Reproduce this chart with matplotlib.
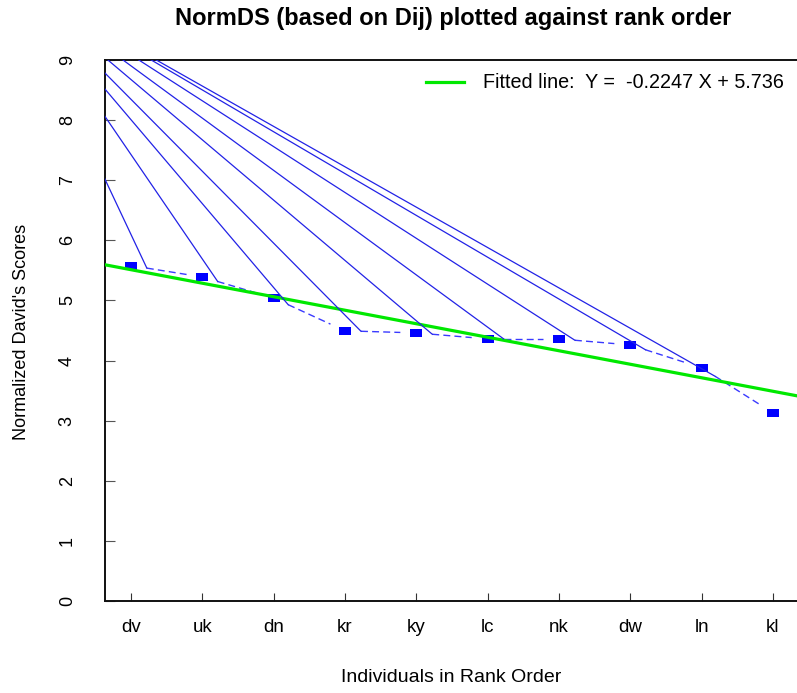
import numpy as np
import matplotlib
matplotlib.use("Agg")
import matplotlib.pyplot as plt
from matplotlib.path import Path
from matplotlib.lines import Line2D

plt.rcParams['font.family'] = ['Liberation Sans', 'DejaVu Sans']

# Individuals ordered by rank and their normalized David's scores
individuals = ["dv", "uk", "dn", "kr", "ky", "lc", "nk", "dw", "ln", "kl"]
norm_ds = [5.58, 5.39, 5.04, 4.495, 4.46, 4.36, 4.36, 4.26, 3.88, 3.13]

# Least-squares fit reported in the legend
fit_slope = -0.2247
fit_intercept = 5.736

# Point from which the connector rays are drawn
ray_origin = (-0.70, 10.38)

W, H, DPI = 797, 693, 100
fig = plt.figure(figsize=(W / DPI, H / DPI), dpi=DPI)
ax = fig.add_axes([105 / W, (H - 601) / H, (W - 105) / W, (601 - 60) / H])
ax.set_xlim(0.635, 10.337)
ax.set_ylim(0, 9)

x = np.arange(1, len(individuals) + 1, dtype=float)
y = np.array(norm_ds)

# Connecting segments with a gap around each point (overplotted style)
gap_px = 16.0
disp = ax.transData.transform(np.column_stack([x, y]))
inv = ax.transData.inverted()
seg_starts = []
for i in range(len(x) - 1):
    p0, p1 = disp[i], disp[i + 1]
    d = p1 - p0
    u = d / np.hypot(*d)
    a = inv.transform(p0 + u * gap_px)
    b = inv.transform(p1 - u * gap_px)
    seg_starts.append(a)
    ax.plot([a[0], b[0]], [a[1], b[1]], color="#3a3aff", lw=1.0,
            dashes=(5, 3), zorder=2)

# Points
rect = Path([(-1.3, -1), (1.3, -1), (1.3, 1), (-1.3, 1), (-1.3, -1)],
            [Path.MOVETO, Path.LINETO, Path.LINETO, Path.LINETO, Path.CLOSEPOLY])
ax.plot(x, y, linestyle="none", marker=rect, markersize=8.0,
        markerfacecolor="#0000ff", markeredgewidth=0, zorder=3)

# Fitted line
xf = np.array(ax.get_xlim())
ax.plot(xf, fit_slope * xf + fit_intercept, color="#00e800", lw=2.3, zorder=4)

# Rays to the start of every connecting segment
for s in seg_starts:
    ax.plot([ray_origin[0], s[0]], [ray_origin[1], s[1]], color="#2222e6",
            lw=0.9, zorder=5)

ax.set_xticks(x)
ax.set_xticklabels(individuals)
ax.set_yticks(range(0, 10))
ax.tick_params(axis="x", direction="in", length=6, width=0.8, pad=13,
               labelsize=13.5, color="#333333")
ax.tick_params(axis="y", direction="in", length=7, width=0.8, pad=21,
               labelsize=13, color="#555555", labelrotation=90)
for lab in ax.get_yticklabels():
    lab.set_verticalalignment("center")
ax.spines["right"].set_visible(False)
for s in ("left", "top", "bottom"):
    ax.spines[s].set_linewidth(1.4)
    ax.spines[s].set_color("#111111")

fig.text(453 / W, 1 - 19 / H, "NormDS (based on Dij) plotted against rank order",
         ha="center", va="center", fontsize=17, fontweight="bold")
fig.text(451 / W, 1 - 678 / H, "Individuals in Rank Order",
         ha="center", va="center", fontsize=14)
fig.text(22 / W, 1 - 332 / H, "Normalized David's Scores",
         ha="center", va="center", fontsize=13, rotation=90)

handle = Line2D([], [], color="#00e800", lw=2.3)
ax.legend([handle], ["Fitted line:  Y =  -0.2247 X + 5.736"],
          loc="center left", bbox_to_anchor=(426 / W, 1 - 83 / H),
          bbox_transform=fig.transFigure, frameon=False, fontsize=14.2,
          borderpad=0, borderaxespad=0, handlelength=1.95,
          handletextpad=0.95)

fig.savefig("out.png", dpi=DPI)
